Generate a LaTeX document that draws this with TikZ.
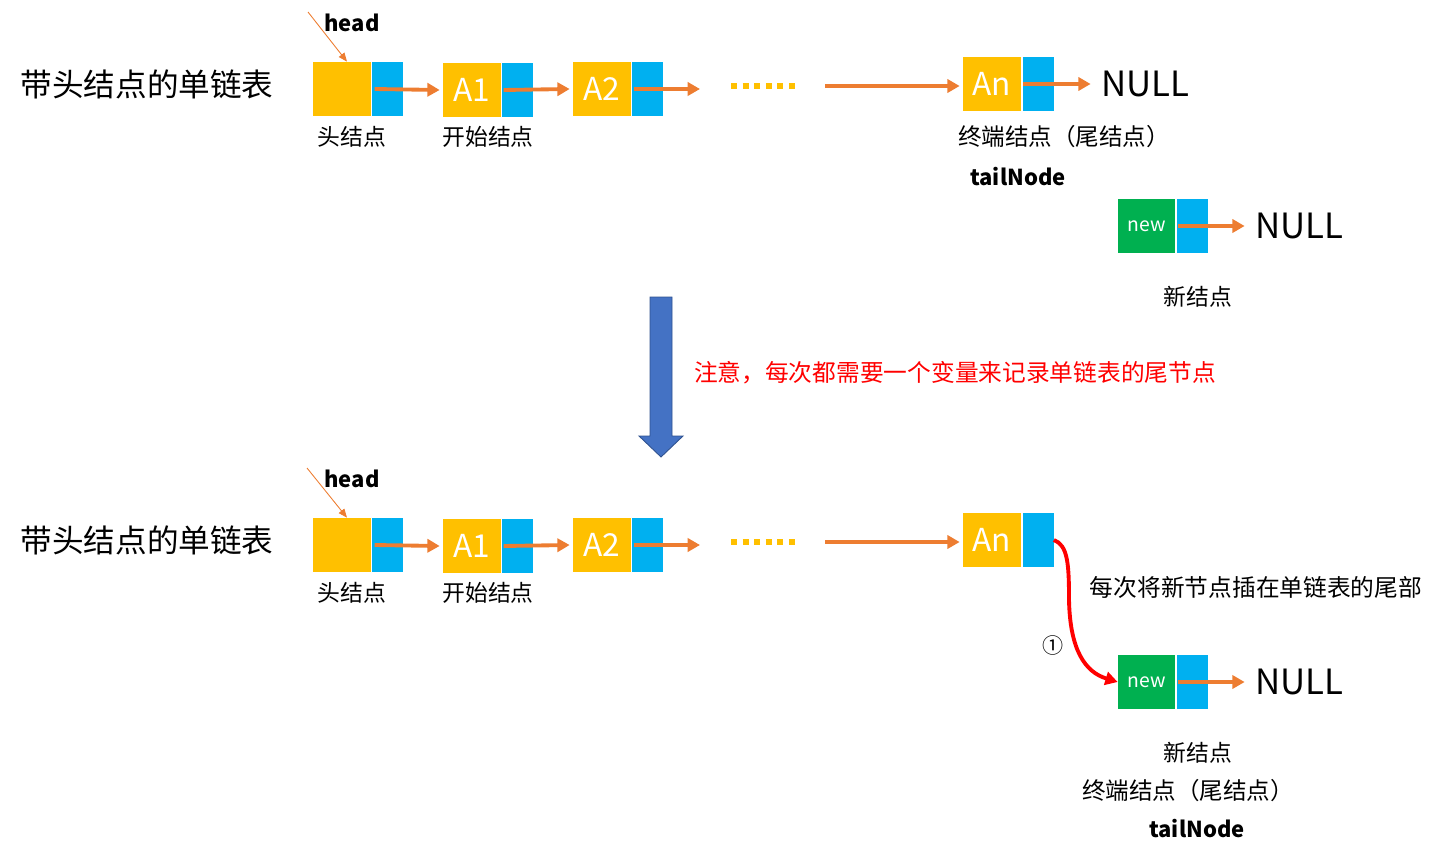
\documentclass[tikz,border=0pt]{standalone}
\usepackage{fontspec}
\setmainfont{Noto Sans CJK SC}
\usetikzlibrary{arrows.meta}
\definecolor{nodeyellow}{HTML}{FFC000}
\definecolor{nodeblue}{HTML}{00B0F0}
\definecolor{nodegreen}{HTML}{00B050}
\definecolor{linkorange}{HTML}{ED7D31}
\definecolor{bigblue}{HTML}{4472C4}
\definecolor{bigblueedge}{HTML}{2F528F}
\begin{document}
\begin{tikzpicture}[x=0.02cm,y=-0.02cm,
  ybox/.style={fill=nodeyellow, draw=none, minimum width=1.16cm, minimum height=1.08cm, inner sep=0pt, text=white, font=\fontsize{18}{20}\selectfont},
  gbox/.style={fill=nodegreen, draw=none, minimum width=1.14cm, minimum height=1.08cm, inner sep=0pt, text=white, font=\fontsize{11}{13}\selectfont},
  bbox/.style={fill=nodeblue, draw=none, minimum width=0.62cm, minimum height=1.08cm, inner sep=0pt},
  link/.style={draw=linkorange, line width=2.2pt, -{Triangle[length=7pt,width=7.5pt]}},
  ptr/.style={draw=linkorange, line width=0.5pt, -{Triangle[length=5pt,width=4pt]}},
  dots/.style={draw=nodeyellow, line width=3.4pt, dash pattern=on 3.4pt off 3.2pt},
  lbl/.style={font=\fontsize{13}{15}\selectfont, inner sep=0pt},
  title/.style={font=\fontsize{18}{21}\selectfont, inner sep=0pt},
  nulltxt/.style={font=\fontsize{19.8}{22}\selectfont, inner sep=0pt},
  boldlbl/.style={font=\bfseries\fontsize{12.5}{15}\selectfont, inner sep=0pt},
  note/.style={font=\fontsize{13.5}{16}\selectfont, inner sep=0pt}
]
\useasboundingbox (0,0) rectangle (1439,858);

% ---------- top row ----------
\node[title] (t1) at (147,84) {带头结点的单链表};
\node[boldlbl] (head1) at (352,23) {head};
\coordinate (hp1) at (308,12);
\node[ybox] (hy1) at (342,89) {};
\node[bbox] (hb1) at (387.5,89) {};
\node[ybox] (a1y1) at (472,90) {A1};
\node[bbox] (a1b1) at (517.5,90) {};
\node[ybox] (a2y1) at (602,89) {A2};
\node[bbox] (a2b1) at (647.5,89) {};
\coordinate (a2e1) at (700,89);
\coordinate (ds1) at (731,86);
\coordinate (de1) at (795,86);
\coordinate (ls1) at (825,86);
\node[ybox] (any1) at (992,84) {An};
\node[bbox] (anb1) at (1038,84) {};
\node[nulltxt] (n1) at (1145,84) {NULL};
\node[lbl] (l11) at (352,137) {头结点};
\node[lbl] (l12) at (488,137) {开始结点};
\node[lbl, font=\fontsize{13.4}{15}\selectfont] (l13) at (1064,137) {终端结点（尾结点）};
\node[boldlbl] (tail1) at (1018,177) {tailNode};

\draw[ptr] (hp1) -- ([xshift=0.1cm]hy1.north);
\draw[link] ([xshift=0.06cm]hb1.west) -- ([xshift=-0.06cm]a1y1.west);
\draw[link] ([xshift=0.04cm]a1b1.west) -- ([xshift=-0.06cm]a2y1.west);
\draw[link] ([xshift=0.04cm]a2b1.west) -- (a2e1);
\draw[dots] (ds1) -- (de1);
\draw[link] (ls1) -- ([xshift=-0.06cm]any1.west |- ls1);
\draw[link] ([xshift=0.02cm]anb1.west) -- ([xshift=-0.2cm]n1.west);

\node[gbox] (nwg1) at (1146.5,226) {new};
\node[bbox] (nwb1) at (1192.5,226) {};
\node[nulltxt] (n2) at (1299,226) {NULL};
\draw[link] ([xshift=0.02cm]nwb1.west) -- ([xshift=-0.2cm]n2.west);
\node[lbl] (l14) at (1198,297) {新结点};

% ---------- big arrow & note ----------
\filldraw[fill=bigblue, draw=bigblueedge, line width=0.5pt]
  (650,297) -- (672,297) -- (672,436) -- (683,436) -- (661,457) -- (639,436) -- (650,436) -- cycle;
\node[note, text=red] (note) at (955,373) {注意，每次都需要一个变量来记录单链表的尾节点};

% ---------- bottom row ----------
\node[title] (t2) at (147,540) {带头结点的单链表};
\node[boldlbl] (head2) at (352,479) {head};
\coordinate (hp2) at (307,468);
\node[ybox] (hy2) at (342,545) {};
\node[bbox] (hb2) at (387.5,545) {};
\node[ybox] (a1y2) at (472,546) {A1};
\node[bbox] (a1b2) at (517.5,546) {};
\node[ybox] (a2y2) at (602,545) {A2};
\node[bbox] (a2b2) at (647.5,545) {};
\coordinate (a2e2) at (700,545);
\coordinate (ds2) at (731,542);
\coordinate (de2) at (795,542);
\coordinate (ls2) at (825,542);
\node[ybox] (any2) at (992,540) {An};
\node[bbox] (anb2) at (1038,540) {};
\node[lbl] (l21) at (352,593) {头结点};
\node[lbl] (l22) at (488,593) {开始结点};

\draw[ptr] (hp2) -- ([xshift=0.1cm]hy2.north);
\draw[link] ([xshift=0.06cm]hb2.west) -- ([xshift=-0.06cm]a1y2.west);
\draw[link] ([xshift=0.04cm]a1b2.west) -- ([xshift=-0.06cm]a2y2.west);
\draw[link] ([xshift=0.04cm]a2b2.west) -- (a2e2);
\draw[dots] (ds2) -- (de2);
\draw[link] (ls2) -- ([xshift=-0.06cm]any2.west |- ls2);

\node[gbox] (nwg2) at (1146.5,682) {new};
\node[bbox] (nwb2) at (1192.5,682) {};
\node[nulltxt] (n3) at (1299,682) {NULL};
\draw[link] ([xshift=0.02cm]nwb2.west) -- ([xshift=-0.2cm]n3.west);

\node[note] (note2) at (1256,587) {每次将新节点插在单链表的尾部};
\node[font=\fontsize{12}{14}\selectfont, inner sep=0pt] (c1) at (1053,645) {①};
\draw[red, line width=2.2pt, -{Triangle[length=7pt,width=7.5pt]}]
  (anb2.east) .. controls (1068,545) and (1069,565) .. (1069,600)
  .. controls (1070,650) and (1085,672) .. (nwg2.west);

\node[lbl] (l23) at (1198,753) {新结点};
\node[lbl, font=\fontsize{13.4}{15}\selectfont] (l24) at (1188,791) {终端结点（尾结点）};
\node[boldlbl] (tail2) at (1197,829) {tailNode};
\end{tikzpicture}
\end{document}
